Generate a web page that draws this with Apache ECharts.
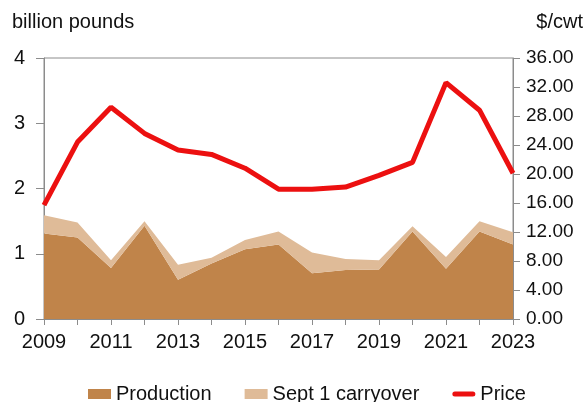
<!DOCTYPE html>
<html>
<head>
<meta charset="utf-8">
<script src="https://cdn.jsdelivr.net/npm/echarts@6/dist/echarts.min.js"></script>
<style>
    html, body { margin: 0; padding: 0; background: #fff; }
    #chart { width: 587px; height: 402px; }
</style>
</head>
<body>
<div id="chart"></div>
<script>
// years on the x axis
const years = ['2009', '2010', '2011', '2012', '2013', '2014', '2015', '2016',
    '2017', '2018', '2019', '2020', '2021', '2022', '2023'];
// billion pounds
const production = [1.31, 1.25, 0.78, 1.43, 0.60, 0.85, 1.07, 1.14,
    0.70, 0.75, 0.76, 1.34, 0.77, 1.34, 1.14];
const carryover = [0.28, 0.23, 0.12, 0.07, 0.23, 0.09, 0.14, 0.20,
    0.32, 0.17, 0.14, 0.08, 0.18, 0.16, 0.19];
// $/cwt
const price = [15.7, 24.4, 29.2, 25.6, 23.3, 22.7, 20.8, 17.9,
    17.9, 18.2, 19.8, 21.6, 32.6, 28.8, 20.1];

const font = 'Liberation Sans, Arial, sans-serif';
const gray = '#8c8c8c';

const myChart = echarts.init(document.getElementById('chart'));
myChart.setOption({
    animation: false,
    textStyle: { fontFamily: font, color: '#111' },
    graphic: [
        {
            type: 'text', left: 12, top: 12,
            style: { text: 'billion pounds', font: '20px ' + font, fill: '#111' }
        },
        {
            type: 'text', right: 4, top: 12,
            style: { text: '$/cwt', font: '20px ' + font, fill: '#111' }
        }
    ],
    grid: {
        left: 44,
        right: 74,
        top: 58,
        bottom: 83,
        show: true,
        borderColor: gray,
        borderWidth: 1
    },
    legend: {
        top: 384,
        left: 88,
        padding: 0,
        itemGap: 33,
        itemWidth: 23,
        itemHeight: 10,
        textStyle: { fontSize: 20, fontFamily: font, color: '#111' },
        data: [
            { name: 'Production', icon: 'rect' },
            { name: 'Sept 1 carryover', icon: 'rect' },
            { name: 'Price', icon: 'path://M0,0 M23,10 M2.5,2.5 H20.5 A2.5,2.5 0 0 1 20.5,7.5 H2.5 A2.5,2.5 0 0 1 2.5,2.5 Z' }
        ]
    },
    xAxis: {
        type: 'category',
        data: years,
        boundaryGap: false,
        axisLine: { lineStyle: { color: gray } },
        axisTick: { show: true, interval: 0, length: 6, lineStyle: { color: gray } },
        axisLabel: { interval: 1, fontSize: 20, margin: 13, color: '#111' }
    },
    yAxis: [
        {
            type: 'value',
            min: 0,
            max: 4,
            interval: 1,
            axisLine: { show: true, lineStyle: { color: gray } },
            axisTick: { show: true, length: 8, lineStyle: { color: gray } },
            axisLabel: { fontSize: 20, margin: 19, color: '#111' },
            splitLine: { show: false }
        },
        {
            type: 'value',
            min: 0,
            max: 36,
            interval: 4,
            position: 'right',
            axisLine: { show: true, lineStyle: { color: gray } },
            axisTick: { show: true, length: 7, lineStyle: { color: gray } },
            axisLabel: {
                fontSize: 19,
                margin: 13,
                color: '#111',
                formatter: v => v.toFixed(2)
            },
            splitLine: { show: false }
        }
    ],
    series: [
        {
            name: 'Production',
            type: 'line',
            stack: 'total',
            data: production,
            symbol: 'none',
            lineStyle: { width: 0 },
            itemStyle: { color: '#c0844a' },
            areaStyle: { color: '#c0844a', opacity: 1 }
        },
        {
            name: 'Sept 1 carryover',
            type: 'line',
            stack: 'total',
            data: carryover,
            symbol: 'none',
            lineStyle: { width: 0 },
            itemStyle: { color: '#dfbb98' },
            areaStyle: { color: '#dfbb98', opacity: 1 }
        },
        {
            name: 'Price',
            type: 'line',
            yAxisIndex: 1,
            data: price,
            symbol: 'none',
            lineStyle: { width: 5, color: '#ec1010' },
            itemStyle: { color: '#ec1010' }
        }
    ]
});
</script>
</body>
</html>
